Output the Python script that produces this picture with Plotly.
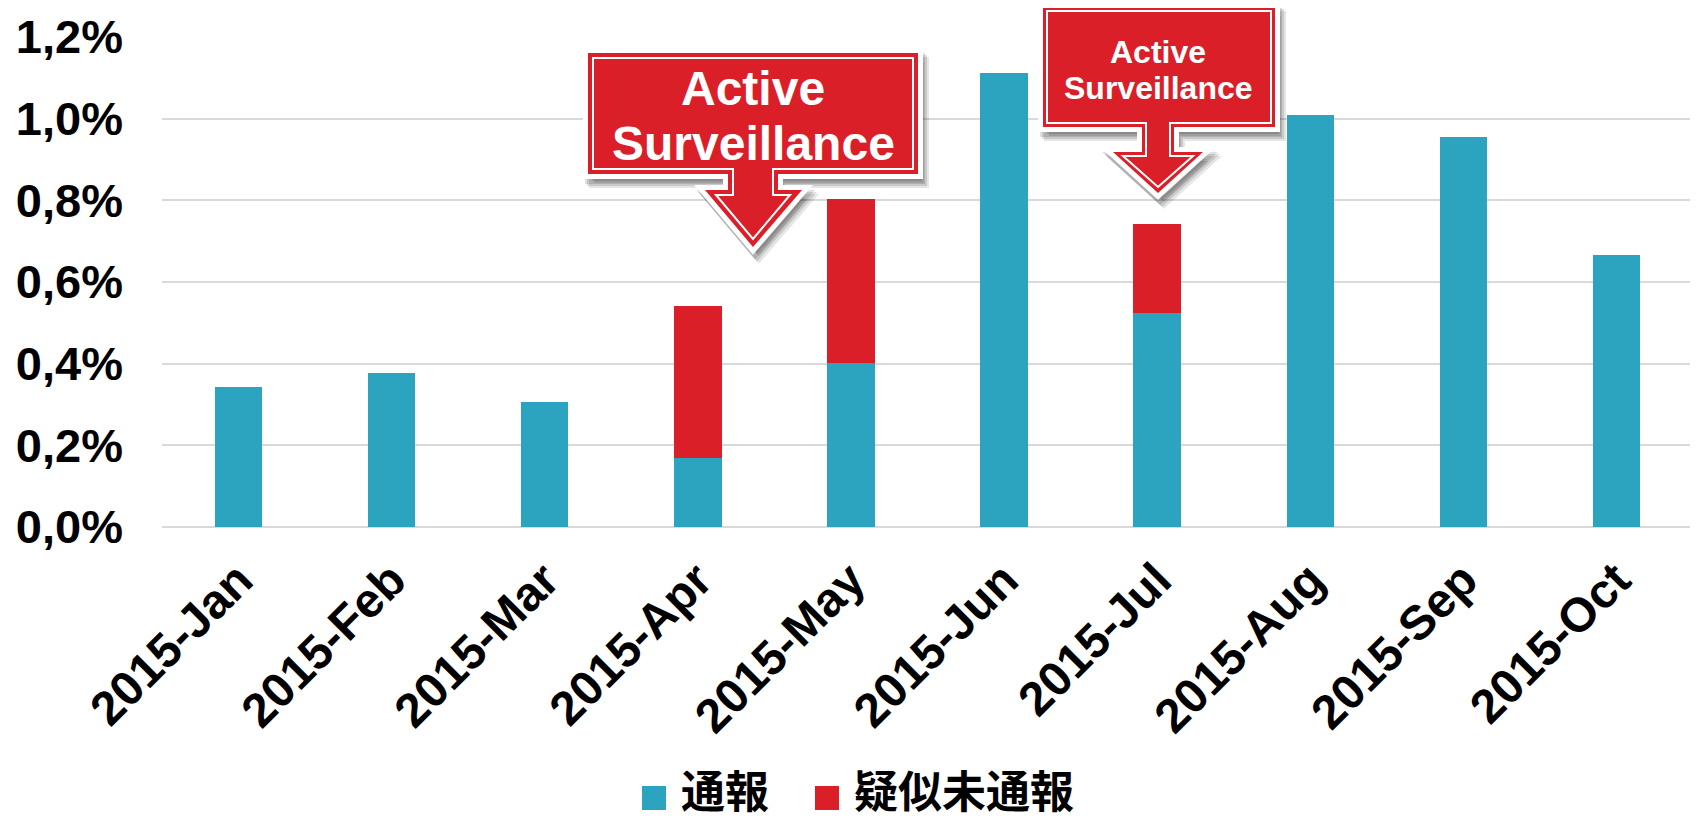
import plotly.graph_objects as go

# ---- data ----
months = ["2015-Jan", "2015-Feb", "2015-Mar", "2015-Apr", "2015-May",
          "2015-Jun", "2015-Jul", "2015-Aug", "2015-Sep", "2015-Oct"]
reported = [0.342, 0.378, 0.307, 0.168, 0.401, 1.112, 0.523, 1.008, 0.956, 0.667]
suspected_unreported = [0, 0, 0, 0.373, 0.402, 0, 0.220, 0, 0, 0]
series_names = ["通報", "疑似未通報"]
yticks = [0, 0.2, 0.4, 0.6, 0.8, 1.0, 1.2]
ytick_labels = ["0,0%", "0,2%", "0,4%", "0,6%", "0,8%", "1,0%", "1,2%"]
callout_text = ["Active", "Surveillance"]

BLUE = "#2CA3BF"
RED = "#DA1F28"
OFF = 8  # page body margin; coordinates below are screen pixels
W, H = 1690, 814
ML, MR, MT, MB = 154, 5, 29, 295
PW, PH = W - ML - MR, H - MT - MB


def xp(px):
    return (px - OFF - ML) / PW


def yp(py):
    return (H - MB - (py - OFF)) / PH


def path(points, dx=0, dy=0):
    s = ""
    for i, (x, y) in enumerate(points):
        s += ("M" if i == 0 else "L") + f"{xp(x + dx):.5f},{yp(y + dy):.5f} "
    return s + "Z"


fig = go.Figure()
fig.add_trace(go.Bar(x=months, y=reported, name=series_names[0],
                     marker=dict(color=BLUE, line=dict(width=0)), width=0.31,
                     showlegend=False))
fig.add_trace(go.Bar(x=months, y=suspected_unreported, name=series_names[1],
                     marker=dict(color=RED, line=dict(width=0)), width=0.31,
                     showlegend=False))

shapes = []
annotations = []


def callout(outer, inner, texts, fsize):
    # soft shadow
    for dx, dy, a in [(6, 9, 0.10), (4, 7, 0.12), (2, 5, 0.12)]:
        shapes.append(dict(type="path", xref="paper", yref="paper",
                           path=path(outer, dx, dy),
                           fillcolor=f"rgba(0,0,0,{a})",
                           line=dict(color=f"rgba(0,0,0,{a})", width=10)))
    shapes.append(dict(type="path", xref="paper", yref="paper", path=path(outer),
                       fillcolor=RED, line=dict(color="white", width=10)))
    shapes.append(dict(type="path", xref="paper", yref="paper", path=path(outer),
                       fillcolor=RED, line=dict(color=RED, width=0)))
    shapes.append(dict(type="path", xref="paper", yref="paper", path=path(inner),
                       fillcolor="rgba(0,0,0,0)", line=dict(color="white", width=2)))
    for (tx, ty), t in zip(texts, callout_text):
        annotations.append(dict(x=xp(tx), y=yp(ty), xref="paper", yref="paper",
                                text=t, showarrow=False, xanchor="center",
                                yanchor="middle",
                                font=dict(family="Liberation Sans, Arial", size=fsize,
                                          color="white", weight="bold")))


outer1 = [(588, 53), (918, 53), (918, 174), (778, 174), (778, 190), (802, 190),
          (753, 247), (705, 190), (728, 190), (728, 174), (588, 174)]
inner1 = [(593, 58), (913, 58), (913, 169), (773, 169), (773, 195), (790, 195),
          (753, 239), (716, 195), (733, 195), (733, 169), (593, 169)]
callout(outer1, inner1, [(753, 88), (753, 143)], 48)

outer2 = [(1043, 7), (1275, 7), (1275, 127), (1174, 127), (1174, 152), (1203, 152),
          (1158, 193), (1113, 152), (1142, 152), (1142, 127), (1043, 127)]
inner2 = [(1047, 11), (1271, 11), (1271, 123), (1170, 123), (1170, 156), (1193, 156),
          (1158, 187), (1123, 156), (1146, 156), (1146, 123), (1047, 123)]
callout(outer2, inner2, [(1158, 52), (1158, 88)], 32)

# manual legend
for (x0, col, tx), name in zip([(642, BLUE, 679), (815, RED, 852)], series_names):
    shapes.append(dict(type="rect", xref="paper", yref="paper",
                       x0=xp(x0), x1=xp(x0 + 24), y0=yp(810), y1=yp(786),
                       fillcolor=col, line=dict(width=0)))
    annotations.append(dict(x=xp(tx), y=yp(789), xref="paper", yref="paper",
                            text=name, showarrow=False, xanchor="left",
                            yanchor="middle",
                            font=dict(family="Noto Sans CJK JP", size=44,
                                      color="black", weight="bold")))

fig.update_layout(
    width=W, height=H,
    margin=dict(l=ML, r=MR, t=MT, b=MB, autoexpand=False),
    barmode="stack",
    plot_bgcolor="white", paper_bgcolor="white",
    shapes=shapes, annotations=annotations,
    showlegend=False,
)
fig.update_xaxes(
    tickangle=-45, showgrid=False, showline=False, ticklabelstandoff=14,
    tickfont=dict(family="Liberation Sans, Arial", size=48, color="black", weight="bold"),
)
fig.update_yaxes(
    range=[0, 1.2], tickvals=yticks, ticktext=ytick_labels,
    showgrid=True, gridcolor="#D9D9D9", gridwidth=2,
    zeroline=True, zerolinecolor="#D9D9D9", zerolinewidth=2,
    showline=False, ticklabelstandoff=38,
    tickfont=dict(family="Liberation Sans, Arial", size=47, color="black", weight="bold"),
)

fig.write_html("out.html")
